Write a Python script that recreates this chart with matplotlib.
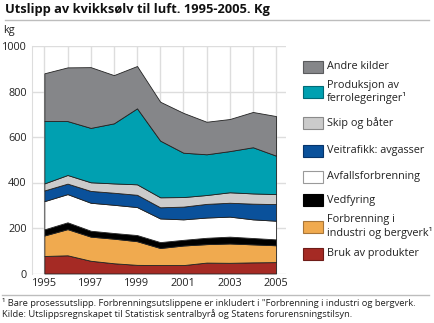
import matplotlib
matplotlib.use("Agg")
import matplotlib.pyplot as plt
from matplotlib.patches import Rectangle
import numpy as np

plt.rcParams['font.family'] = ['Open Sans', 'DejaVu Sans']

# data (kg)
aar = [1995, 1996, 1997, 1998, 1999, 2000, 2001, 2002, 2003, 2004, 2005]
bruk_av_produkter = [77, 80, 56, 45, 38, 37, 37, 48, 47, 49, 50]
forbrenning_industri = [90, 115, 106, 108, 104, 75, 86, 81, 85, 79, 74]
vedfyring = [27, 30, 26, 25, 27, 26, 25, 28, 30, 28, 26]
avfallsforbrenning = [124, 124, 123, 124, 123, 104, 90, 89, 88, 82, 82]
veitrafikk = [47, 46, 52, 53, 54, 49, 56, 60, 61, 69, 73]
skip_og_baater = [31, 38, 38, 41, 46, 44, 42, 39, 46, 45, 44]
ferrolegeringer = [274, 237, 239, 264, 334, 249, 195, 179, 181, 203, 169]
andre_kilder = [210, 236, 267, 212, 186, 171, 175, 143, 141, 155, 174]

serier = [bruk_av_produkter, forbrenning_industri, vedfyring, avfallsforbrenning,
          veitrafikk, skip_og_baater, ferrolegeringer, andre_kilder]
navn = ["Bruk av produkter", "Forbrenning i\nindustri og bergverk\u00b9", "Vedfyring",
        "Avfallsforbrenning", "Veitrafikk: avgasser", "Skip og b\u00e5ter",
        "Produksjon av\nferrolegeringer\u00b9", "Andre kilder"]
farger = ["#a52a24", "#f0aa4f", "#000000", "#ffffff", "#0a519b", "#cbcbcb",
          "#00a0b1", "#858689"]
kanter = ["#6e1c18", "#a8763a", "#000000", "#9a9a9a", "#06346a", "#8a8a8a",
          "#006a76", "#5a5b5d"]

W, H = 435, 323
fig = plt.figure(figsize=(W / 100, H / 100), dpi=100)

# main axes in pixel layout
x0, x1, ytop, ybot = 32.3, 286, 46, 273.5
ax = fig.add_axes([x0 / W, 1 - ybot / H, (x1 - x0) / W, (ybot - ytop) / H])
ax.stackplot(aar, *serier, colors=farger, edgecolor="#222222", linewidth=0.6, zorder=3)
ax.set_xlim(1994.48, 2005.43)
ax.set_ylim(0, 1000)
ax.set_xticks(aar[::2])
ax.set_yticks(range(0, 1001, 200))
ax.set_xticks(aar, minor=True)
ax.grid(True, which='both', axis='x', color="#dddddd", linewidth=1, zorder=0)
ax.grid(True, axis='y', color="#dddddd", linewidth=1, zorder=0)
ax.set_axisbelow(True)
for s in ['top', 'right', 'bottom']:
    ax.spines[s].set_visible(False)
ax.spines['left'].set_color("#dddddd")
ax.tick_params(which='both', length=0, labelsize=7.8, colors="#222222", pad=3)
ax.tick_params(axis='y', pad=4)

# overlay for texts, lines and legend
ov = fig.add_axes([0, 0, 1, 1])
ov.set_xlim(0, W)
ov.set_ylim(H, 0)
ov.axis('off')

ov.text(5, 10, "Utslipp av kvikksølv til luft. 1995-2005. Kg", fontsize=9.3, fontweight='bold',
        va='center', ha='left', color="#111111")
ov.plot([5, 429], [19.5, 19.5], color="#bdbdbd", lw=1)
ov.text(3, 31, "kg", fontsize=7.8, va='center', ha='left', color="#222222")
ov.plot([2, 429], [295, 295], color="#bdbdbd", lw=1)
ov.text(2, 303, "\u00b9 Bare prosessutslipp. Forbrenningsutslippene er inkludert i \"Forbrenning i industri og bergverk.",
        fontsize=6.75, va='center', ha='left', color="#222222")
ov.text(2, 314, "Kilde: Utslippsregnskapet til Statistisk sentralbyrå og Statens forurensningstilsyn.",
        fontsize=6.75, va='center', ha='left', color="#222222")

# legend, top to bottom
sentre = [66.7, 92, 123, 151, 176.7, 200, 226.7, 253.7]
for i, yc in enumerate(sentre):
    k = len(serier) - 1 - i
    ov.add_patch(Rectangle((303.5, yc - 6), 19.5, 12, facecolor=farger[k], edgecolor=kanter[k], lw=0.8))
    ov.text(327, yc, navn[k], fontsize=7.8, va='center', ha='left', color="#222222", linespacing=1.2)

fig.savefig("out.png", dpi=100)
